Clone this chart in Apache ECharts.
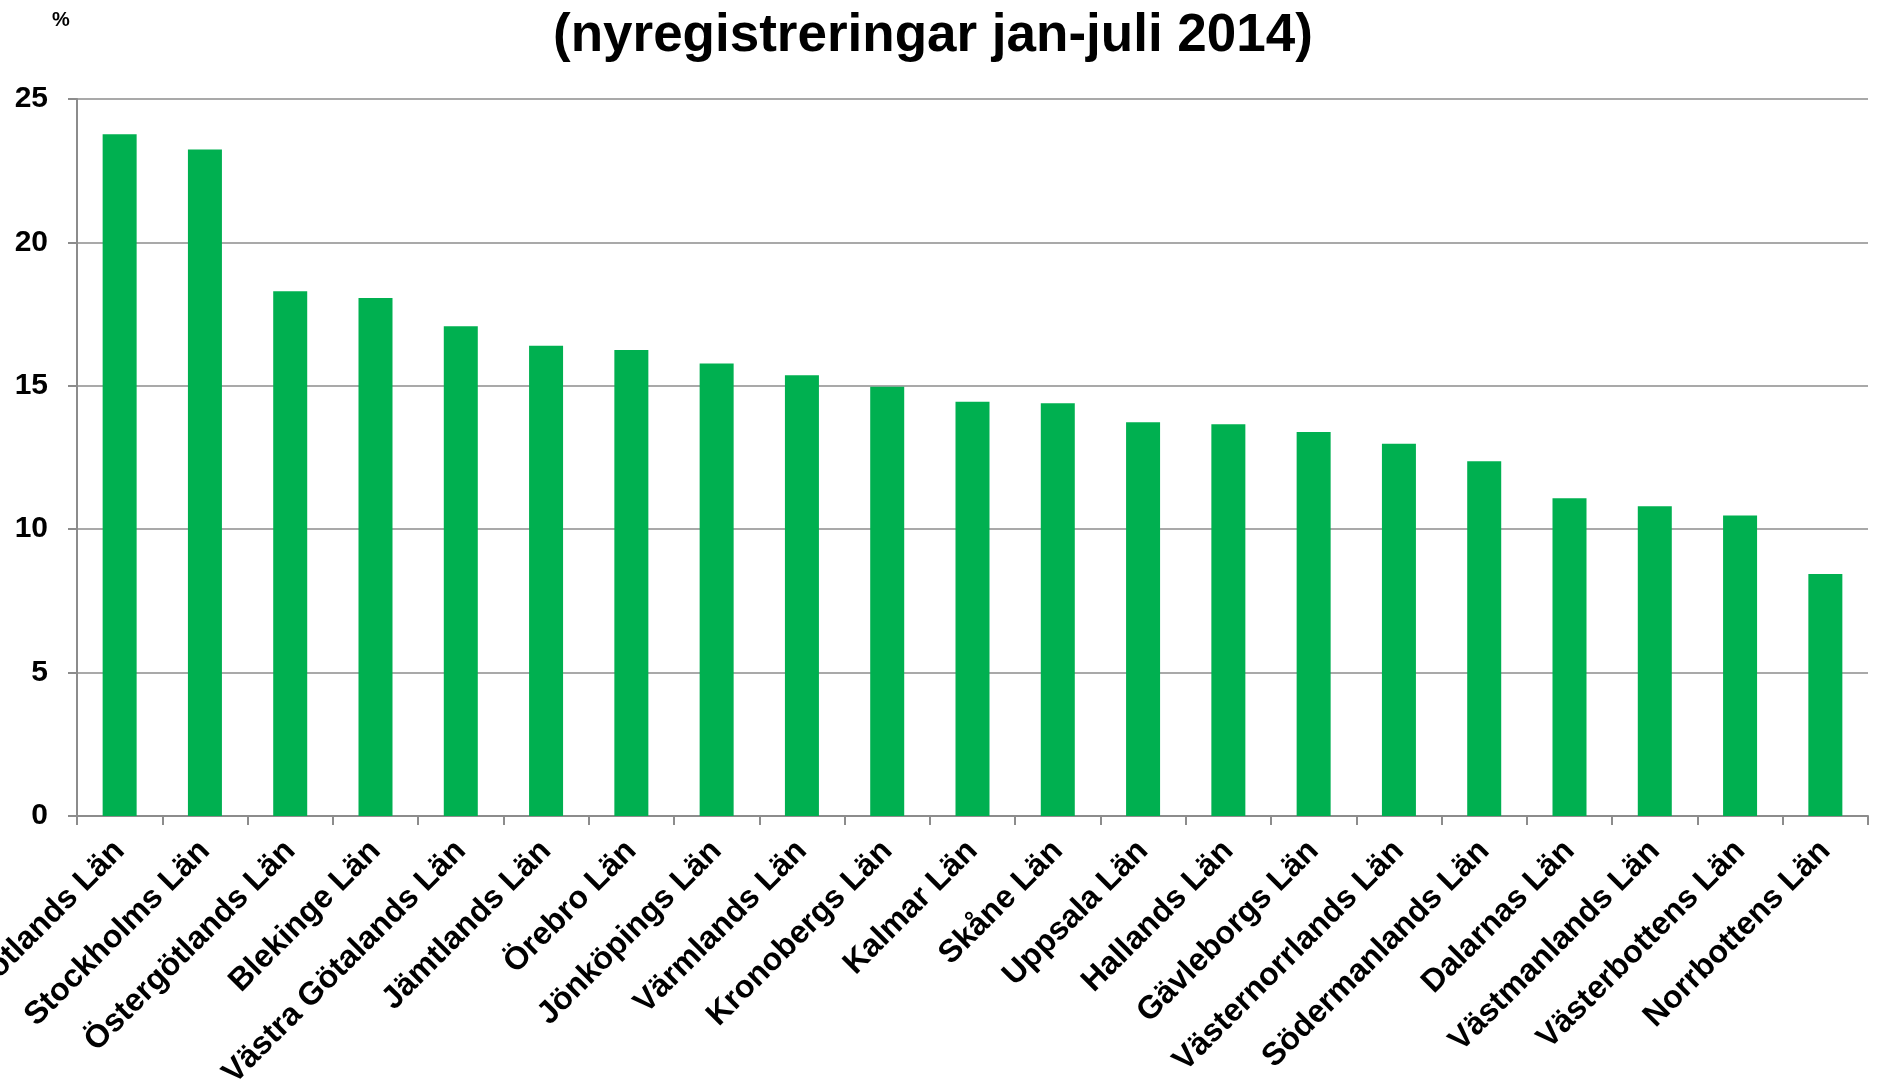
<!DOCTYPE html>
<html>
<head>
<meta charset="utf-8">
<title>Miljöbilsandel per län</title>
<script src="https://cdn.jsdelivr.net/npm/echarts@6/dist/echarts.min.js"></script>
<style>
  html, body { margin: 0; padding: 0; background: #fff; }
  #chart { width: 1878px; height: 1089px; }
</style>
</head>
<body>
<div id="chart"></div>
<script>
// län, sorterade efter andel
const categories = [
  'Gotlands Län', 'Stockholms Län', 'Östergötlands Län', 'Blekinge Län',
  'Västra Götalands Län', 'Jämtlands Län', 'Örebro Län', 'Jönköpings Län',
  'Värmlands Län', 'Kronobergs Län', 'Kalmar Län', 'Skåne Län', 'Uppsala Län',
  'Hallands Län', 'Gävleborgs Län', 'Västernorrlands Län', 'Södermanlands Län',
  'Dalarnas Län', 'Västmanlands Län', 'Västerbottens Län', 'Norrbottens Län'
]
// andel i procent
const shares = [
  23.77, 23.24, 18.30, 18.06, 17.08, 16.40, 16.25, 15.78, 15.37, 14.97,
  14.44, 14.39, 13.73, 13.66, 13.39, 12.98, 12.37, 11.08, 10.80, 10.48, 8.44
]
const yTicks = [0, 5, 10, 15, 20, 25]

const font = "'Liberation Sans', Arial, sans-serif"
const gray = '#8c8c8c'

let myChart = echarts.init(document.getElementById('chart'))
myChart.setOption({
  animation: false,
  backgroundColor: '#fff',
  title: {
    text: '(nyregistreringar jan-juli 2014)',
    left: 548,
    top: 5,
    textStyle: { fontFamily: font, fontSize: 53, fontWeight: 'bold', color: '#000' }
  },
  graphic: [
    {
      type: 'text',
      left: 52,
      top: 10,
      style: { text: '%', font: 'bold 20px ' + font, fill: '#000' }
    }
  ],
  // labels may run off the canvas, as in the original
  grid: { left: 77, right: 10, top: 99, bottom: 273, containLabel: false, outerBoundsMode: 'none' },
  xAxis: {
    type: 'category',
    data: categories,
    axisLine: { show: true, lineStyle: { color: gray, width: 2 } },
    axisTick: { show: true, length: 9, lineStyle: { color: gray, width: 2 } },
    axisLabel: {
      interval: 0,
      rotate: 45,
      margin: 30,
      fontFamily: font,
      fontSize: 32,
      fontWeight: 'bold',
      color: '#000'
    }
  },
  yAxis: {
    type: 'value',
    min: yTicks[0],
    max: yTicks[yTicks.length - 1],
    interval: 5,
    axisLine: { show: true, lineStyle: { color: gray, width: 2 } },
    axisTick: { show: true, length: 9, lineStyle: { color: gray, width: 2 } },
    splitLine: { show: true, lineStyle: { color: gray, width: 1.5 } },
    axisLabel: {
      margin: 29,
      fontFamily: font,
      fontSize: 30,
      fontWeight: 'bold',
      color: '#000'
    }
  },
  series: [
    {
      type: 'bar',
      data: shares,
      barWidth: 34,
      itemStyle: { color: '#00b050' }
    }
  ]
})
</script>
</body>
</html>
